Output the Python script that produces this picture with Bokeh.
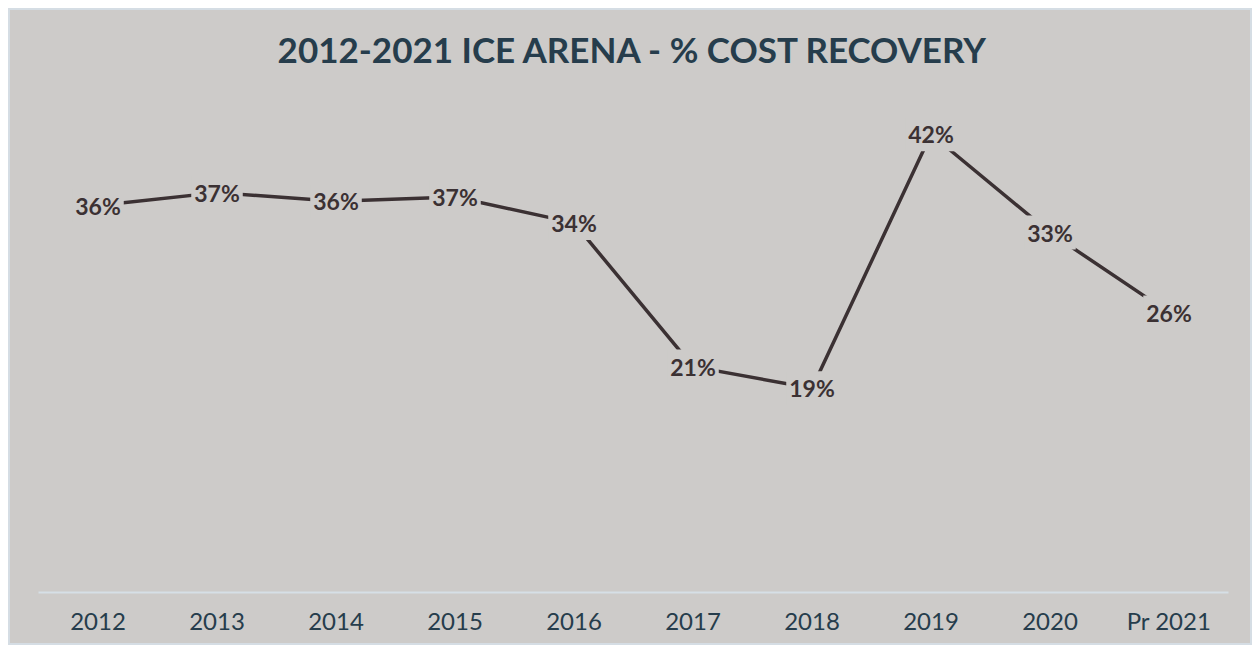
from bokeh.plotting import figure
from bokeh.models import FactorRange, Range1d, ColumnDataSource
from bokeh.core.properties import value
from bokeh.embed import file_html
from bokeh.resources import INLINE

years = ["2012", "2013", "2014", "2015", "2016", "2017", "2018", "2019", "2020", "Pr 2021"]
recovery = [35.8, 37.0, 36.2, 36.6, 34.2, 20.9, 18.9, 42.4, 33.3, 25.9]
labels = [f"{round(v)}%" for v in recovery]
title_text = "2012-2021 ICE ARENA - % COST RECOVERY"

BG = "#cdcbc9"
LINE = "#3b3133"
SLATE = "#263d4c"
FONT = "Lato"

src = ColumnDataSource(dict(x=years, y=recovery, lab=labels))

p = figure(width=1244, height=637, x_range=FactorRange(*years, range_padding=0),
           y_range=Range1d(0, 48.3), output_backend="svg", toolbar_location=None,
           title=title_text,
           min_border_left=28, min_border_right=26, min_border_top=60, min_border_bottom=55)
p.styles = {"border": "2px solid #d5dde4", "margin-left": "8px", "margin-top": "8px",
            "background-color": BG}
p.background_fill_color = None
p.border_fill_color = BG
p.outline_line_color = None

p.title.align = "center"
p.title.text_font = FONT
p.title.text_font_style = "bold"
p.title.text_font_size = "35px"
p.title.text_color = SLATE
p.title.standoff = 2

p.line("x", "y", source=src, line_color=LINE, line_width=3.5)
p.text("x", "y", text="lab", source=src, text_font=value(FONT), text_font_style="bold",
       text_font_size="23px", text_color=LINE, text_align="center", text_baseline="middle",
       background_fill_color=BG, padding=3)

p.yaxis.visible = False
p.grid.visible = False
ax = p.xaxis[0]
ax.axis_line_color = "#d6dfe6"
ax.axis_line_width = 2
ax.major_tick_line_color = None
ax.minor_tick_line_color = None
ax.major_label_text_font = FONT
ax.major_label_text_font_size = "24px"
ax.major_label_text_color = SLATE
ax.major_label_standoff = 7

open("out.html", "w").write(file_html(p, INLINE))
